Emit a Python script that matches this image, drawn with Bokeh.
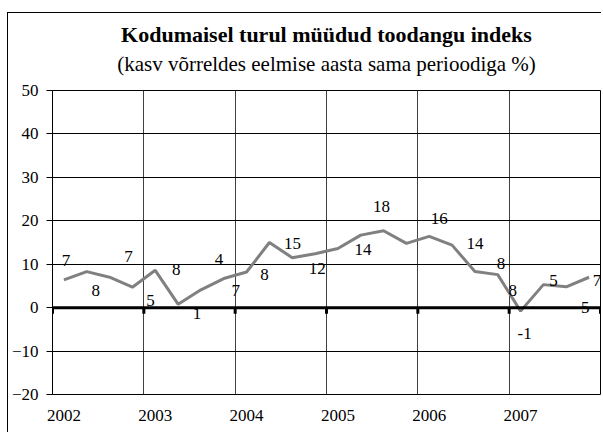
from bokeh.plotting import figure
from bokeh.models import FixedTicker, ColumnDataSource, LabelSet, Span, Title, Range1d
from bokeh.embed import file_html
from bokeh.resources import INLINE

# ---- data ----
years = [2002, 2003, 2004, 2005, 2006, 2007]
year_edges = [2002, 2003, 2004, 2005, 2006, 2007, 2008]
quarters = [1, 2, 3, 4]
values = [6.4, 8.3, 7.0, 4.7,
          8.6, 0.8, 4.1, 6.7,
          8.2, 15.0, 11.5, 12.4,
          13.6, 16.7, 17.7, 14.8,
          16.4, 14.4, 8.3, 7.6,
          -0.8, 5.3, 4.8, 7.0]
# data labels: which point, text, pixel offset (right, down)
label_point = [0, 1, 2, 3, 4, 5, 6, 7, 8, 9, 10, 12, 14, 16, 17, 18, 19, 20, 21, 22, 23]
label_text = ["7", "8", "7", "5", "8", "1", "4", "7", "8", "15", "12", "14",
              "18", "16", "14", "8", "8", "-1", "5", "5", "7"]
label_dx = [2, 9, 19, 18, 21, 19, 18, 12, 18, 23, 25, 25, -2, 10, 23, 26, 15, 4, 10, 19, 8]
label_dy = [-19, 19, -21, 13, -1, 9, -30, 12, 2, 1, 11, 1, -24, -18, -2, -8, 16, 22, -4, 21, 3]

title_main = "Kodumaisel turul müüdud toodangu indeks"
title_sub = "(kasv võrreldes eelmise aasta sama perioodiga %)"

xs = [y + (q - 0.5) / 4 for y in years for q in quarters]

FONT = "Liberation Serif, Times New Roman, serif"

p = figure(width=594, height=420, x_range=Range1d(2002, 2008), y_range=Range1d(-20, 50),
           output_backend="svg", toolbar_location=None, title=title_main,
           min_border_left=41, min_border_right=2, min_border_top=77, min_border_bottom=39)
p.styles = {"margin-left": "7px", "margin-top": "12px",
            "border-left": "1px solid black", "border-top": "1px solid black"}

p.title.text_font = FONT
p.title.text_font_size = "22px"
p.title.text_font_style = "bold"
p.title.align = "center"
p.title.text_color = "black"
p.title.standoff = 4
# spacer between the subtitle and the plot area
p.add_layout(Title(text=" ", text_font=FONT, text_font_size="10px", standoff=1), "above")
p.add_layout(Title(text=title_sub, text_font=FONT, text_font_size="21px",
                   text_font_style="normal", align="center", text_color="black",
                   standoff=2), "above")

p.outline_line_color = "black"
p.outline_line_width = 1
p.background_fill_color = "white"
p.border_fill_color = "white"

# grid
p.xgrid.ticker = FixedTicker(ticks=year_edges)
p.xgrid.grid_line_color = "#404040"
p.xgrid.grid_line_width = 1
p.ygrid.ticker = FixedTicker(ticks=list(range(-20, 51, 10)))
p.ygrid.grid_line_color = "black"
p.ygrid.grid_line_width = 1

# y axis
p.yaxis.ticker = FixedTicker(ticks=list(range(-20, 51, 10)))
p.yaxis.axis_line_color = "black"
p.yaxis.major_tick_out = 6
p.yaxis.major_tick_in = 0
p.yaxis.minor_tick_line_color = None
p.yaxis.major_label_text_font = FONT
p.yaxis.major_label_text_font_size = "17px"
p.yaxis.major_label_text_color = "black"
p.yaxis.major_label_standoff = 8

# x axis (year labels at the bottom)
label_ticks = [y + 0.125 for y in years]
p.xaxis.ticker = FixedTicker(ticks=label_ticks)
p.xaxis.major_label_overrides = {t: str(y) for t, y in zip(label_ticks, years)}
p.xaxis.axis_line_color = None
p.xaxis.major_tick_line_color = None
p.xaxis.minor_tick_line_color = None
p.xaxis.major_label_text_font = FONT
p.xaxis.major_label_text_font_size = "17px"
p.xaxis.major_label_text_color = "black"
p.xaxis.major_label_standoff = 9

# zero line with tick marks
p.add_layout(Span(location=0, dimension="width", line_color="black", line_width=3))
p.segment(x0=year_edges, y0=[0] * len(year_edges), x1=year_edges, y1=[-1.4] * len(year_edges),
          line_color="black", line_width=3)

# series
p.line(xs, values, line_color="#808080", line_width=3)

src = ColumnDataSource(dict(
    x=[xs[i] for i in label_point],
    y=[values[i] for i in label_point],
    text=label_text,
    dx=label_dx,
    dy=[-d for d in label_dy],
))
p.add_layout(LabelSet(x="x", y="y", text="text", x_offset="dx", y_offset="dy", source=src,
                      text_font=FONT, text_font_size="17px", text_color="black",
                      text_align="center", text_baseline="middle"))

open("out.html", "w").write(file_html(p, INLINE))
